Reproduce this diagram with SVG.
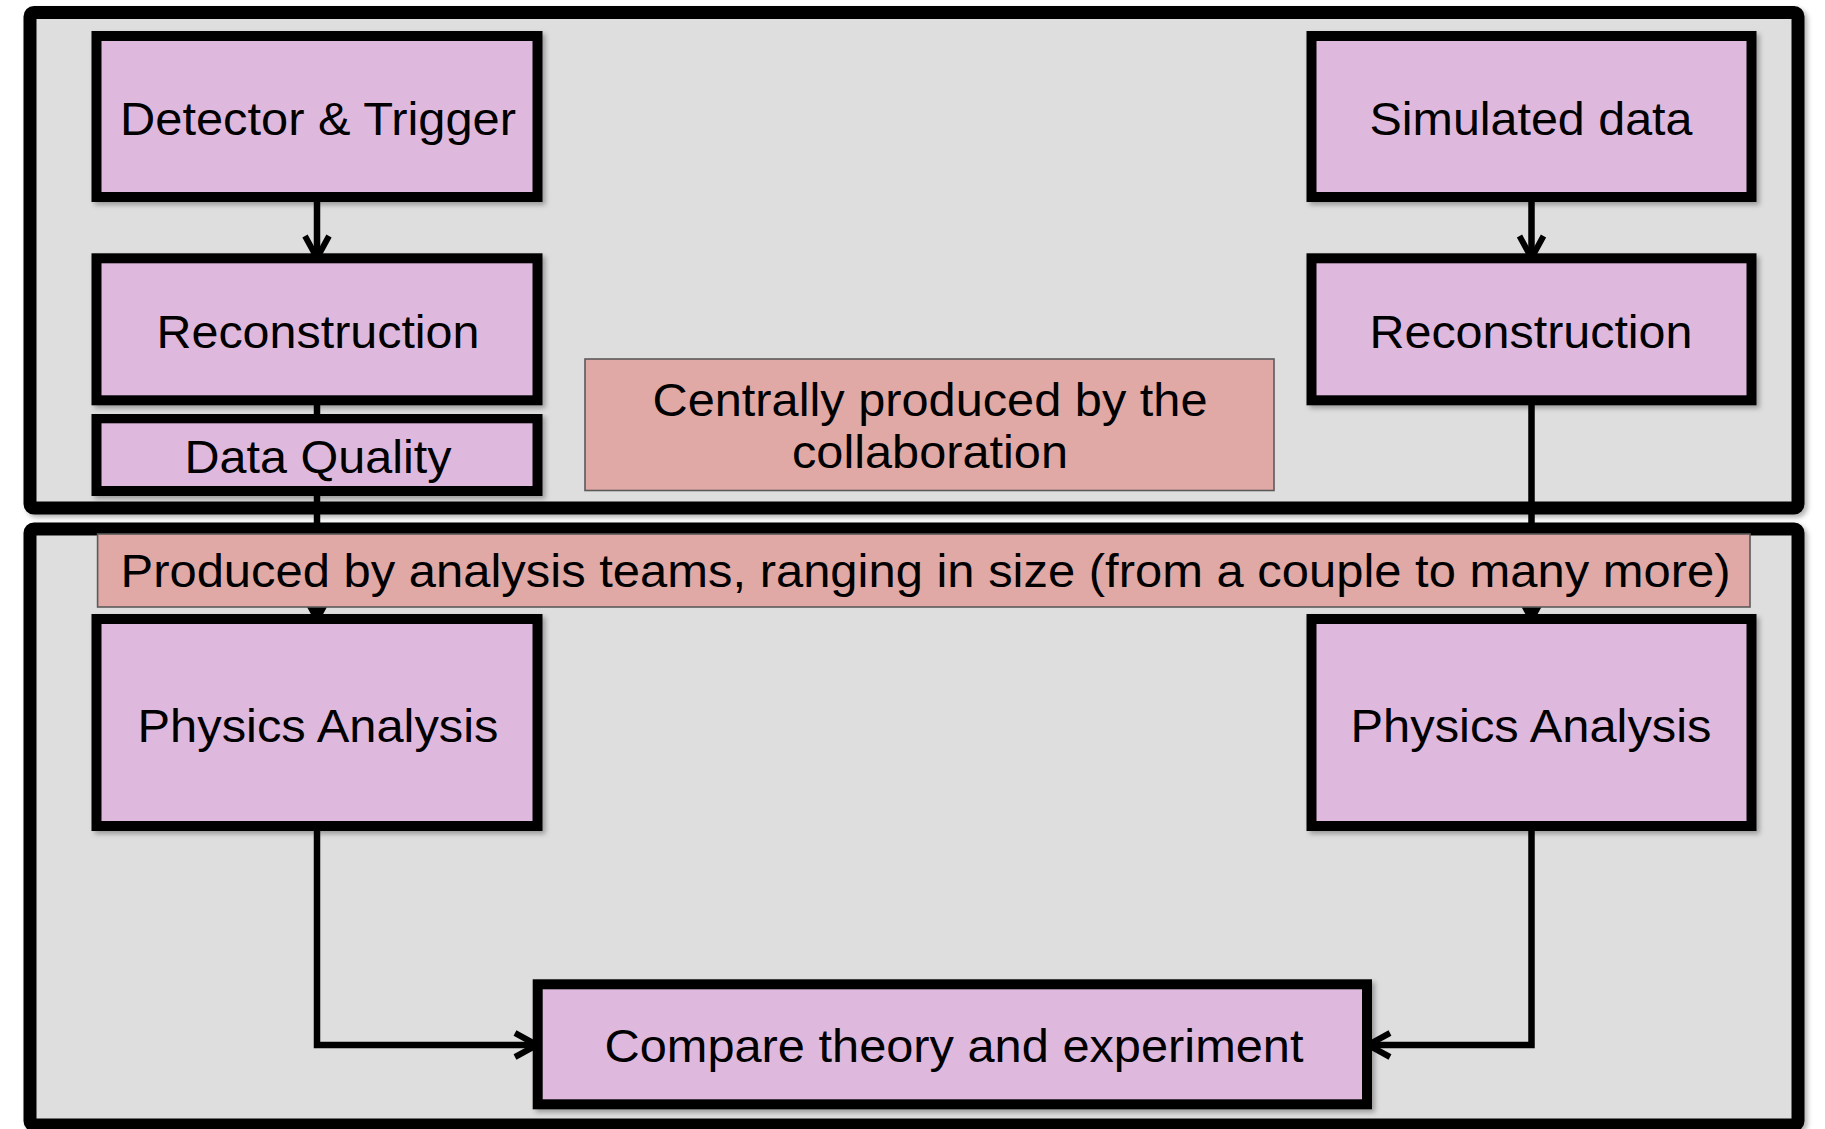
<svg xmlns="http://www.w3.org/2000/svg" width="1825" height="1129" viewBox="0 0 1825 1129">
<defs>
<style>
.cont{fill:#DEDEDE;stroke:#000;stroke-width:13;filter:url(#sh)}
.node{fill:#DFB9DD;stroke:#000;stroke-width:10;filter:url(#sh)}
.lab{fill:#E0A9A5;stroke:#5a5a5a;stroke-width:1.6}
.t{font-family:"Liberation Sans",Arial,sans-serif;font-size:46px;fill:#000;text-anchor:middle}
.con{fill:none;stroke:#000;stroke-width:6.5}
</style>
<filter id="sh" x="-5%" y="-5%" width="112%" height="120%">
<feDropShadow dx="3" dy="3" stdDeviation="2.5" flood-color="#000" flood-opacity="0.3"/>
</filter>
<marker id="arr" markerUnits="userSpaceOnUse" markerWidth="40" markerHeight="40" viewBox="-30 -20 40 40" refX="-4" refY="0" orient="auto">
<path d="M-22,-12 L0,0 L-22,12" fill="none" stroke="#000" stroke-width="6"/>
</marker>
</defs>
<rect width="1825" height="1129" fill="#fff"/>
<g id="containers">
<rect class="cont" x="30" y="12.5" width="1768" height="495.5" rx="4"/>
<rect class="cont" x="30" y="529" width="1768" height="596" rx="4"/>
</g>
<g id="connectors">
<path class="con" d="M317,201 V254" marker-end="url(#arr)"/>
<path class="con" d="M317,404 V415"/>
<path class="con" d="M317,495 V615" marker-end="url(#arr)"/>
<path class="con" d="M1531.5,201 V254" marker-end="url(#arr)"/>
<path class="con" d="M1531.5,404 V615" marker-end="url(#arr)"/>
<path class="con" d="M317,830 V1045 H533" marker-end="url(#arr)"/>
<path class="con" d="M1531.5,830 V1045 H1372" marker-end="url(#arr)"/>
</g>
<g id="detector">
<rect class="node" x="96.5" y="36" width="441" height="161"/>
<text class="t" x="318" y="135" textLength="396" lengthAdjust="spacingAndGlyphs">Detector &amp; Trigger</text>
</g>
<g id="reco-data">
<rect class="node" x="96.5" y="258.3" width="441" height="142"/>
<text class="t" x="318" y="348" textLength="323" lengthAdjust="spacingAndGlyphs">Reconstruction</text>
</g>
<g id="data-quality">
<rect class="node" x="96.5" y="418.3" width="441" height="72.7"/>
<text class="t" x="318" y="472.5" textLength="267" lengthAdjust="spacingAndGlyphs">Data Quality</text>
</g>
<g id="simulated">
<rect class="node" x="1311.5" y="36" width="440" height="161"/>
<text class="t" x="1531" y="135" textLength="323" lengthAdjust="spacingAndGlyphs">Simulated data</text>
</g>
<g id="reco-sim">
<rect class="node" x="1311.5" y="258.3" width="440" height="142"/>
<text class="t" x="1531" y="348" textLength="323" lengthAdjust="spacingAndGlyphs">Reconstruction</text>
</g>
<g id="central-label">
<rect class="lab" x="585" y="359" width="689" height="131.5"/>
<text class="t" x="930" y="415.5" textLength="555" lengthAdjust="spacingAndGlyphs">Centrally produced by the</text>
<text class="t" x="930" y="468" textLength="276" lengthAdjust="spacingAndGlyphs">collaboration</text>
</g>
<g id="analysis-label">
<rect class="lab" x="97.6" y="534" width="1652.4" height="73"/>
<text class="t" x="925.5" y="587" textLength="1610" lengthAdjust="spacingAndGlyphs">Produced by analysis teams, ranging in size (from a couple to many more)</text>
</g>
<g id="physics-data">
<rect class="node" x="96.5" y="619" width="441" height="207"/>
<text class="t" x="318" y="742" textLength="361" lengthAdjust="spacingAndGlyphs">Physics Analysis</text>
</g>
<g id="physics-sim">
<rect class="node" x="1311.5" y="619" width="440" height="207"/>
<text class="t" x="1531" y="742" textLength="361" lengthAdjust="spacingAndGlyphs">Physics Analysis</text>
</g>
<g id="compare">
<rect class="node" x="537.7" y="984.3" width="829.3" height="120"/>
<text class="t" x="954" y="1061.5" textLength="699" lengthAdjust="spacingAndGlyphs">Compare theory and experiment</text>
</g>
</svg>
